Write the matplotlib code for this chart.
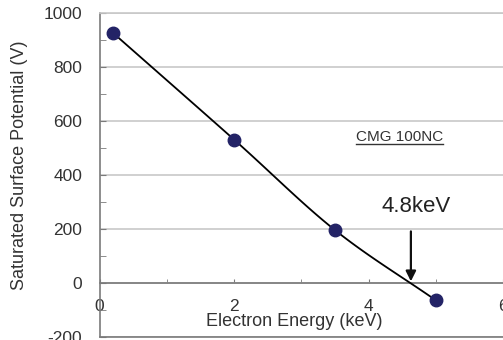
import numpy as np
import matplotlib.pyplot as plt
from matplotlib.ticker import MultipleLocator

plt.rcParams['font.family'] = ['Liberation Sans', 'DejaVu Sans']
plt.rcParams['axes.unicode_minus'] = False

# measured points
energy = [0.2, 2.0, 3.5, 5.0]          # keV
potential = [925, 530, 195, -65]       # V
crossover = 4.63                       # keV, where the curve crosses 0 V
crossover_label = "4.8keV"
sample_label = "CMG 100NC"


def smooth_curve(x, y, n=40):
    # Catmull-Rom style smoothing through the measured points
    x = np.asarray(x, float)
    y = np.asarray(y, float)
    px = np.concatenate([[2 * x[0] - x[1]], x, [2 * x[-1] - x[-2]]])
    py = np.concatenate([[2 * y[0] - y[1]], y, [2 * y[-1] - y[-2]]])
    xs, ys = [], []
    for i in range(1, len(px) - 2):
        t = np.linspace(0, 1, n)
        for p, out in ((px, xs), (py, ys)):
            p0, p1, p2, p3 = p[i - 1], p[i], p[i + 1], p[i + 2]
            out.extend(0.5 * ((2 * p1) + (-p0 + p2) * t
                              + (2 * p0 - 5 * p1 + 4 * p2 - p3) * t ** 2
                              + (-p0 + 3 * p1 - 3 * p2 + p3) * t ** 3))
    return np.array(xs), np.array(ys)


fig = plt.figure(figsize=(5.03, 3.40), dpi=100)
ax = fig.add_axes([0.198, 0.0097, 0.802, 0.953])

ax.set_xlim(0, 6)
ax.set_ylim(-200, 1000)

# horizontal grid every 200 V
ax.yaxis.set_major_locator(MultipleLocator(200))
ax.yaxis.set_minor_locator(MultipleLocator(100))
ax.grid(axis='y', color='#c8c8c8', linewidth=1.2)
ax.set_axisbelow(True)

# x axis sits on the 0 V line
ax.spines['bottom'].set_position(('data', 0))
ax.spines['bottom'].set_color('#7a7a7a')
ax.spines['bottom'].set_linewidth(1.2)
ax.spines['left'].set_color('#7a7a7a')
ax.spines['left'].set_linewidth(1.2)
ax.spines['top'].set_color('#c8c8c8')
ax.spines['top'].set_linewidth(1.2)
ax.spines['right'].set_visible(False)
ax.axhline(-200, color='#7a7a7a', linewidth=1.2, clip_on=False)

ax.set_xticks([0, 2, 4, 6])
ax.xaxis.set_minor_locator(MultipleLocator(1))
ax.tick_params(axis='x', which='both', direction='in', length=3,
               color='#7a7a7a', pad=12, labelsize=12.5, labelcolor='#333333')
ax.tick_params(axis='y', which='both', direction='in', length=4,
               color='#7a7a7a', pad=12.5, labelsize=12.5, labelcolor='#333333')

ax.set_xlabel("Electron Energy (keV)", fontsize=13, color='#333333')
ax.xaxis.set_label_coords(0.483, 0.072)
ax.set_ylabel("Saturated Surface Potential (V)", fontsize=13, color='#333333')
ax.yaxis.set_label_coords(-0.178, 0.53)

# smoothed line plus markers
cx, cy = smooth_curve(energy, potential)
ax.plot(cx, cy, color='black', linewidth=1.3, zorder=3)
ax.plot(energy, potential, 'o', color='#232366', markersize=9, zorder=4)

# crossover arrow and label
ax.annotate("", xy=(crossover, 5), xytext=(crossover, 190),
            arrowprops=dict(arrowstyle='-|>', color='#111111', lw=1.6,
                            mutation_scale=15, shrinkA=0, shrinkB=0), zorder=5)
ax.text(4.71, 281, crossover_label, fontsize=16, color='#222222',
        ha='center', va='center')

# underlined sample name
ax.text(4.46, 540, sample_label, fontsize=11, color='#333333',
        ha='center', va='center')
ax.plot([3.82, 5.11], [512, 512], color='#333333', linewidth=1.0)

fig.savefig("out.png", dpi=100)
